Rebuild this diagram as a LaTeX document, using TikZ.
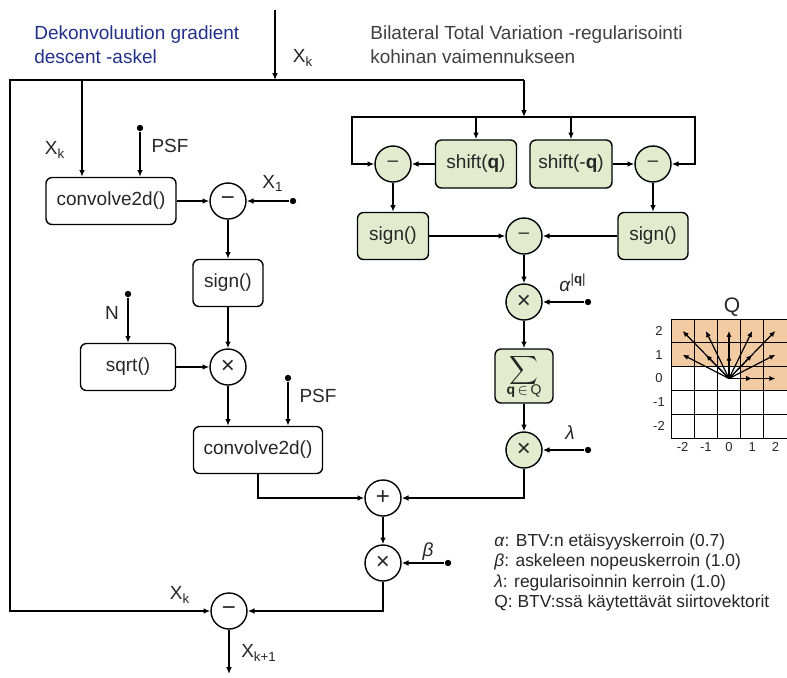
\documentclass[tikz,border=0pt]{standalone}
\usepackage{fontspec}
\setmainfont{Liberation Sans}
\usetikzlibrary{arrows.meta}

\definecolor{boxgreen}{HTML}{E3EBCF}
\definecolor{cellorange}{HTML}{F2CBA3}
\definecolor{titleblue}{HTML}{22308A}

\begin{document}
\begin{tikzpicture}[
    ->, % Makes the connectors point to the target node
    >={Latex[length=3.4pt,width=2.8pt]}, % Arrow tip style
    x=0.5pt, y=-0.5pt, % one unit is one pixel of the sketch
    line width=0.7pt,
    text=black!85,
    font=\fontsize{9.5}{12}\selectfont,
    block/.style={draw, rounded corners=3pt, inner sep=0pt, minimum height=23.5pt},
    btv/.style={block, fill=boxgreen},
    op/.style={circle, draw, minimum size=18pt, inner sep=0pt},
    opg/.style={op, fill=boxgreen},
    dot/.style={circle, fill, inner sep=0pt, minimum size=3.2pt},
    small/.style={font=\fontsize{8.7}{10.2}\selectfont}
]
\useasboundingbox (0,0) rectangle (787,677);

% Titles
\node[anchor=west, align=left, text=titleblue] (TL) at (27,45) {Dekonvoluution gradient\\descent -askel};
\node[anchor=west, align=left, text=black!75] (TR) at (363,45) {Bilateral Total Variation -regularisointi\\kohinan vaimennukseen};

% Define the nodes (gradient descent step)
\node[block, minimum width=65pt] (A) at (111,201) {convolve2d()};
\node[op] (B) at (228,201) {\large −};
\node[block, minimum width=35pt] (C) at (228,283) {sign()};
\node[block, minimum width=47.5pt] (D) at (128,367) {sqrt()};
\node[op] (E) at (228,367) {\large ×};
\node[block, minimum width=64.5pt] (F) at (258,450) {convolve2d()};
\node[op] (G) at (383,498) {\large +};
\node[op] (H) at (383,563) {\large ×};
\node[op] (I) at (229,611) {\large −};

% Define the nodes (BTV)
\node[opg] (M) at (393,164) {–};
\node[btv, minimum width=40.5pt, minimum height=24pt] (S) at (476,164) {shift(\textbf{q})};
\node[btv, minimum width=41pt, minimum height=24pt] (T) at (571,164) {shift(-\textbf{q})};
\node[opg] (N) at (653,164) {–};
\node[btv, minimum width=35.5pt] (U) at (393,236) {sign()};
\node[btv, minimum width=35pt] (V) at (653,236) {sign()};
\node[opg] (W) at (524,236) {–};
\node[opg] (X) at (524,302) {\large ×};
\node[btv, minimum width=29pt, minimum height=27pt, align=center] (Y) at (524,376) {$\displaystyle\sum$\\[-2pt]{\fontsize{7}{8}\selectfont\textbf{q}\,$\in$\,Q}};
\node[opg] (Z) at (524,450) {\large ×};

% Junctions and free ends
\coordinate (T0) at (275,10);
\coordinate (T1) at (275,80);
\coordinate (L0) at (10,80);
\coordinate (R0) at (524,80);
\coordinate (K0) at (82,80);
\coordinate (B0) at (524,117);
\coordinate (BL) at (352,117);
\coordinate (BR) at (695,117);
\coordinate (O) at (229,674);

% Inputs
\node[dot] (d1) at (140,128) {};
\node[dot] (d2) at (293,201) {};
\node[dot] (d3) at (128,294) {};
\node[dot] (d4) at (288,378) {};
\node[dot] (d5) at (588,302) {};
\node[dot] (d6) at (588,450) {};
\node[dot] (d7) at (448,563) {};

% Labels
\node at (303,58) {X\textsubscript{k}};
\node at (55,150) {X\textsubscript{k}};
\node at (170,146) {PSF};
\node at (273,183) {X\textsubscript{1}};
\node at (112,313) {N};
\node at (318,396) {PSF};
\node at (573,283) {\textit{α}\textsuperscript{|\textbf{q}|}};
\node at (570,433) {\textit{λ}};
\node at (428,552) {\textit{β}};
\node at (180,595) {X\textsubscript{k}};
\node at (259,653) {X\textsubscript{k+1}};

% Define the directed edges
\draw (T0) -- (T1);
\draw (R0) -- (L0) |- (I);
\draw (K0) -- (K0 |- A.north);
\draw (d1) -- (d1 |- A.north);
\draw (A) edge (B);
\draw (d2) edge (B);
\draw (B) edge (C);
\draw (C) edge (E);
\draw (d3) edge (D);
\draw (D) edge (E);
\draw (E) -- (E |- F.north);
\draw (d4) -- (d4 |- F.north);
\draw (F) |- (G);
\draw (G) edge (H);
\draw (d7) edge (H);
\draw (H) |- (I);
\draw (I) -- (O);

\draw (R0) -- (B0);
\draw (B0) -- (BL) |- (M);
\draw (B0) -- (BR) |- (N);
\draw (S |- B0) -- (S);
\draw (T |- B0) -- (T);
\draw (S) edge (M);
\draw (T) edge (N);
\draw (M) edge (U);
\draw (N) edge (V);
\draw (U) edge (W);
\draw (V) edge (W);
\draw (W) edge (X);
\draw (d5) edge (X);
\draw (X) edge (Y);
\draw (Y) edge (Z);
\draw (d6) edge (Z);
\draw (Z) |- (G);

% Shift vectors Q
\begin{scope}[-, line width=0.45pt]
\fill[cellorange] (671,319) rectangle (787,366.6);
\fill[cellorange] (740.6,366.6) rectangle (787,390.4);
\foreach \i in {0,...,5}
  \draw ({671+23.2*\i},319) -- ({671+23.2*\i},438);
\foreach \j in {0,...,5}
  \draw (671,{319+23.8*\j}) -- (787,{319+23.8*\j});
\foreach \u/\v in {-2/2,-1/2,0/2,1/2,2/2,-2/1,-1/1,0/1,1/1,2/1,1/0,2/0}
  \draw[->, line width=0.6pt, >={Latex[length=3pt,width=2.6pt]}] (729,378.5) -- ++({23.2*\u},{-23.8*\v});
\foreach \v in {-2,...,2}
  \node[font=\fontsize{6.5}{7}\selectfont] at (659,{330.9+23.8*(2-\v)}) {\v};
\foreach \u in {-2,...,2}
  \node[font=\fontsize{6.5}{7}\selectfont] at ({682.6+23.2*(\u+2)},447) {\u};
\end{scope}
\node[font=\fontsize{10.5}{12}\selectfont] (Qlab) at (732,307) {Q};

% Legend
\node[small, anchor=west, align=left] (Leg) at (487,572.5) {\textit{α}: BTV:n etäisyyskerroin (0.7)\\\textit{β}: askeleen nopeuskerroin (1.0)\\\textit{λ}: regularisoinnin kerroin (1.0)\\Q: BTV:ssä käytettävät siirtovektorit};

\end{tikzpicture}
\end{document}
